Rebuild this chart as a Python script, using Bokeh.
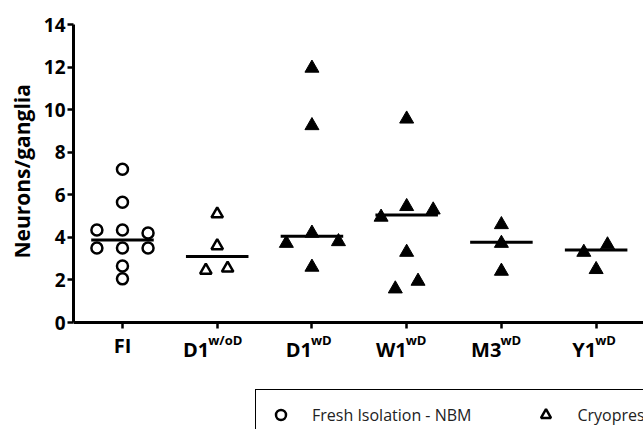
from bokeh.plotting import figure
from bokeh.models import (FixedTicker, Legend, LegendItem, Range1d, ColumnDataSource,
                          LinearAxis, Title)
from bokeh.core.properties import value
from bokeh.embed import file_html
from bokeh.resources import INLINE

# ---- data ----
group_names = ["FI", "D1", "D1", "W1", "M3", "Y1"]
group_sups = ["", "w/oD", "wD", "wD", "wD", "wD"]
medians = [3.88, 3.1, 4.05, 5.05, 3.77, 3.41]
y_ticks = [0, 2, 4, 6, 8, 10, 12, 14]
y_title = "Neurons/ganglia"

fi_values = [7.2, 5.65, 4.35, 4.35, 4.2, 3.5, 3.5, 3.5, 2.65, 2.05]
fi_jitter = [0, 0, -0.27, 0, 0.27, -0.27, 0, 0.27, 0, 0]

d1wod_values = [5.1, 3.6, 2.45, 2.55]
d1wod_jitter = [0, 0, -0.12, 0.11]

d1wd_values = [11.95, 9.25, 4.2, 3.72, 3.8, 2.6]
d1wd_jitter = [0, 0, 0, -0.27, 0.28, 0]

w1_values = [9.56, 5.45, 5.29, 4.95, 3.3, 1.94, 1.58]
w1_jitter = [0, 0, 0.28, -0.27, 0, 0.12, -0.12]

m3_values = [4.6, 3.72, 2.41]
m3_jitter = [0, 0, 0]

y1_values = [3.3, 3.65, 2.49]
y1_jitter = [-0.13, 0.12, 0]

legend_labels = ["Fresh Isolation - NBM", "Cryopreserved"]

FONT = "Open Sans"
W, H = 643, 429
TOP = 24          # frame top (value 14)
ZERO_PX = 322     # pixel row of value 0
PX_PER_UNIT = (ZERO_PX - TOP) / 14.0


def px_to_y(py):
    """layout helper: a pixel row below the axis expressed in data units"""
    return (ZERO_PX - py) / PX_PER_UNIT


p = figure(width=W, height=H, x_range=Range1d(0.483, 6.5),
           y_range=Range1d(px_to_y(H), 14),
           x_axis_location=None,
           output_backend="svg", toolbar_location=None,
           min_border_left=73, min_border_right=0, min_border_top=TOP, min_border_bottom=0)
p.outline_line_color = None
p.grid.visible = False
p.background_fill_color = "white"
p.border_fill_color = "white"

# y axis
ya = p.yaxis[0]
ya.ticker = FixedTicker(ticks=y_ticks)
ya.bounds = (0, 14)
ya.axis_line_width = 3
ya.major_tick_line_width = 2.5
ya.major_tick_in = 0
ya.major_tick_out = 6
ya.minor_tick_line_color = None
ya.major_label_text_font = FONT
ya.major_label_text_font_style = "bold"
ya.major_label_text_font_size = "19px"
ya.major_label_text_color = "black"
ya.major_label_standoff = 2

# y axis title, placed along the bounded axis (0..14) rather than the whole frame
p.add_layout(Title(text=y_title, align="left", offset=H - 258, vertical_align="middle",
                   standoff=8, text_font=FONT, text_font_style="bold",
                   text_font_size="21px", text_color="black"), "left")

# x axis drawn at value 0 (labels drawn separately, to get superscripts)
xa = LinearAxis(fixed_location=0,
                ticker=FixedTicker(ticks=list(range(1, len(group_names) + 1))),
                axis_line_width=3, major_tick_line_width=2.5,
                major_tick_in=6, major_tick_out=0, minor_tick_line_color=None,
                major_label_text_color=None, major_label_standoff=0,
                major_label_text_font_size="8px")
p.add_layout(xa, "above")

# median lines
p.segment(x0=[i + 1 - 0.33 for i in range(len(medians))],
          x1=[i + 1 + 0.33 for i in range(len(medians))],
          y0=medians, y1=medians, line_color="black", line_width=3)

# points
CIRC = dict(marker="circle", size=11, fill_color=None, line_color="black", line_width=2.5)
OTRI = dict(marker="triangle", size=11.5, fill_color=None, line_color="black", line_width=2.5)
FTRI = dict(marker="triangle", size=14, fill_color="black", line_color="black", line_width=1)

lg_c = p.scatter(x=[1 + j for j in fi_jitter], y=fi_values, **CIRC)
lg_t = p.scatter(x=[2 + j for j in d1wod_jitter], y=d1wod_values, **OTRI)
filled_groups = [(3, d1wd_values, d1wd_jitter), (4, w1_values, w1_jitter),
                 (5, m3_values, m3_jitter), (6, y1_values, y1_jitter)]
for pos, vals, jit in filled_groups:
    p.scatter(x=[pos + j for j in jit], y=vals, **FTRI)

# category labels with superscripts
plain = [i for i, s in enumerate(group_sups) if not s]
supd = [i for i, s in enumerate(group_sups) if s]
shifts = [-(len(group_sups[i]) - 2) * 4 for i in supd]

src_plain = ColumnDataSource(dict(x=[i + 1 for i in plain], y=[px_to_y(345)] * len(plain),
                                  t=[group_names[i] for i in plain]))
src_base = ColumnDataSource(dict(x=[i + 1 for i in supd], y=[px_to_y(349)] * len(supd),
                                 t=[group_names[i] for i in supd], dx=shifts))
src_sup = ColumnDataSource(dict(x=[i + 1 for i in supd], y=[px_to_y(339)] * len(supd),
                                t=[group_sups[i] for i in supd],
                                dx=[s - 1 for s in shifts]))

p.text(x="x", y="y", text="t", source=src_plain, text_align="center", text_baseline="alphabetic",
       text_font=value(FONT), text_font_style="bold", text_font_size="20px", text_color="black")
p.text(x="x", y="y", text="t", source=src_base, x_offset="dx", text_align="right",
       text_baseline="alphabetic", text_font=value(FONT), text_font_style="bold",
       text_font_size="20px", text_color="black")
p.text(x="x", y="y", text="t", source=src_sup, x_offset="dx", text_align="left",
       text_baseline="alphabetic", text_font=value(FONT), text_font_style="bold",
       text_font_size="13px", text_color="black")

legend = Legend(items=[LegendItem(label=legend_labels[0], renderers=[lg_c]),
                       LegendItem(label=legend_labels[1], renderers=[lg_t])],
                orientation="horizontal", location=(182, -11), margin=0,
                glyph_width=25, glyph_height=25, label_standoff=19, spacing=62, padding=12,
                border_line_color="black", border_line_width=1.5, border_line_alpha=1.0,
                label_text_font=FONT, label_text_font_size="16px", label_text_color="#222222",
                background_fill_color="white", background_fill_alpha=1.0)
p.add_layout(legend)

open("out.html", "w").write(file_html(p, INLINE))
